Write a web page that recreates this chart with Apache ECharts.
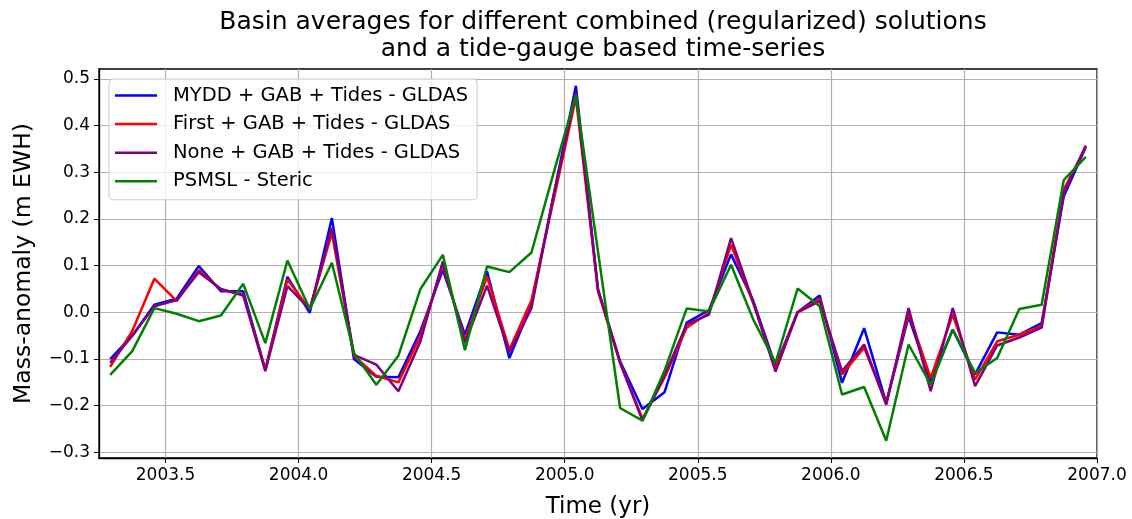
<!DOCTYPE html>
<html>
<head>
<meta charset="utf-8">
<script src="https://cdn.jsdelivr.net/npm/echarts@6/dist/echarts.min.js"></script>
<style>
html,body{margin:0;padding:0;background:#fff;}
#chart{width:1132px;height:519px;}
</style>
</head>
<body>
<div id="chart"></div>
<script>
const times = [2003.292,2003.375,2003.458,2003.542,2003.625,2003.708,2003.792,2003.875,2003.958,
  2004.042,2004.125,2004.208,2004.292,2004.375,2004.458,2004.542,2004.625,2004.708,2004.792,2004.875,2004.958,
  2005.042,2005.125,2005.208,2005.292,2005.375,2005.458,2005.542,2005.625,2005.708,2005.792,2005.875,2005.958,
  2006.042,2006.125,2006.208,2006.292,2006.375,2006.458,2006.542,2006.625,2006.708,2006.792,2006.875,2006.958];

const mydd = [-0.100,-0.050,0.016,0.029,0.099,0.045,0.045,-0.123,0.076,
  -0.001,0.202,-0.100,-0.138,-0.139,-0.040,0.091,-0.048,0.088,-0.098,0.016,0.250,
  0.485,0.049,-0.105,-0.207,-0.171,-0.022,0.005,0.124,0.025,-0.115,0.000,0.036,
  -0.151,-0.034,-0.194,-0.009,-0.148,-0.037,-0.133,-0.043,-0.048,-0.023,0.248,0.354];

const first = [-0.117,-0.040,0.072,0.024,0.090,0.049,0.038,-0.123,0.070,
  0.006,0.170,-0.093,-0.136,-0.150,-0.050,0.102,-0.059,0.077,-0.080,0.026,0.240,
  0.460,0.045,-0.108,-0.228,-0.140,-0.033,-0.001,0.145,0.020,-0.120,0.000,0.029,
  -0.133,-0.076,-0.194,-0.001,-0.141,-0.005,-0.144,-0.062,-0.048,-0.029,0.263,0.354];

const none = [-0.108,-0.050,0.013,0.026,0.086,0.050,0.036,-0.126,0.056,
  0.007,0.181,-0.091,-0.112,-0.169,-0.062,0.109,-0.066,0.057,-0.086,0.009,0.250,
  0.470,0.049,-0.108,-0.232,-0.135,-0.026,-0.005,0.159,0.022,-0.127,0.000,0.024,
  -0.126,-0.069,-0.198,0.009,-0.169,0.009,-0.158,-0.071,-0.054,-0.033,0.255,0.357];

const psmsl = [-0.134,-0.083,0.009,-0.003,-0.019,-0.007,0.061,-0.066,0.111,
  0.007,0.106,-0.087,-0.155,-0.093,0.050,0.123,-0.081,0.098,0.086,0.128,0.298,
  0.465,0.130,-0.205,-0.232,-0.125,0.008,0.002,0.102,-0.015,-0.108,0.051,0.013,
  -0.176,-0.160,-0.275,-0.069,-0.155,-0.037,-0.130,-0.098,0.007,0.016,0.283,0.333];

const seriesNames = ['MYDD + GAB + Tides - GLDAS','First + GAB + Tides - GLDAS','None + GAB + Tides - GLDAS','PSMSL - Steric'];
const seriesColors = ['#0000ff','#ff0000','#800080','#008000'];
const xTicks = [2003.5,2004.0,2004.5,2005.0,2005.5,2006.0,2006.5,2007.0];
const yTicks = [-0.3,-0.2,-0.1,0.0,0.1,0.2,0.3,0.4,0.5];

const FONT = 'DejaVu Sans';
const allData = [mydd, first, none, psmsl];

const chart = echarts.init(document.getElementById('chart'), null, {renderer:'canvas'});
const option = {
  animation: false,
  backgroundColor: '#ffffff',
  title: {
    text: 'Basin averages for different combined (regularized) solutions\nand a tide-gauge based time-series',
    left: 598, top: 4, textAlign: 'center',
    textStyle: {fontFamily: FONT, fontSize: 25, fontWeight: 'normal', color: '#000', lineHeight: 27}
  },
  legend: {
    orient: 'vertical', left: 109, top: 79,
    data: seriesNames.map(n => ({name: n, icon: 'rect'})),
    itemWidth: 42, itemHeight: 2.5, itemGap: 7.6,
    padding: [6, 9, 8, 6],
    backgroundColor: 'rgba(255,255,255,0.8)',
    borderColor: '#cccccc', borderWidth: 1, borderRadius: 4,
    textStyle: {fontFamily: FONT, fontSize: 19.5, color: '#000', lineHeight: 21, padding: [0,0,0,11]}
  },
  grid: {left: 99, right: 35, top: 69, bottom: 61, show: true, borderColor: '#000', borderWidth: 1.3,
    containLabel: false, outerBoundsMode: 'none'},
  xAxis: {
    type: 'value', min: 2003.25, max: 2007.0,
    name: 'Time (yr)', nameLocation: 'middle', nameGap: 38,
    nameTextStyle: {fontFamily: FONT, fontSize: 23, color: '#000'},
    axisLine: {show: true, onZero: false, lineStyle: {color: '#000', width: 1.3}},
    axisTick: {show: true, inside: false, length: 5, customValues: xTicks, lineStyle: {color: '#000', width: 1}},
    axisLabel: {customValues: xTicks, margin: 9, fontFamily: FONT, fontSize: 17, color: '#000',
      formatter: v => v.toFixed(1)},
    splitLine: {show: true, lineStyle: {color: '#b0b0b0', width: 1.2}}
  },
  yAxis: {
    type: 'value', min: -0.312, max: 0.521,
    name: 'Mass-anomaly (m EWH)', nameLocation: 'middle', nameGap: 63,
    nameTextStyle: {fontFamily: FONT, fontSize: 23.5, color: '#000'},
    axisLine: {show: true, onZero: false, lineStyle: {color: '#000', width: 1.3}},
    axisTick: {show: true, inside: false, length: 5, customValues: yTicks, lineStyle: {color: '#000', width: 1}},
    axisLabel: {customValues: yTicks, margin: 9, fontFamily: FONT, fontSize: 17, color: '#000',
      formatter: v => v.toFixed(1).replace('-', '\u2212')},
    splitLine: {show: true, lineStyle: {color: '#b0b0b0', width: 1.2}}
  },
  series: seriesNames.map((name, k) => ({
    name: name, type: 'line', showSymbol: false, symbol: 'none',
    data: times.map((t, i) => [t, allData[k][i]]),
    lineStyle: {color: seriesColors[k], width: 2.5},
    itemStyle: {color: seriesColors[k]},
    z: 2 + k
  }))
};
chart.setOption(option);
</script>
</body>
</html>
